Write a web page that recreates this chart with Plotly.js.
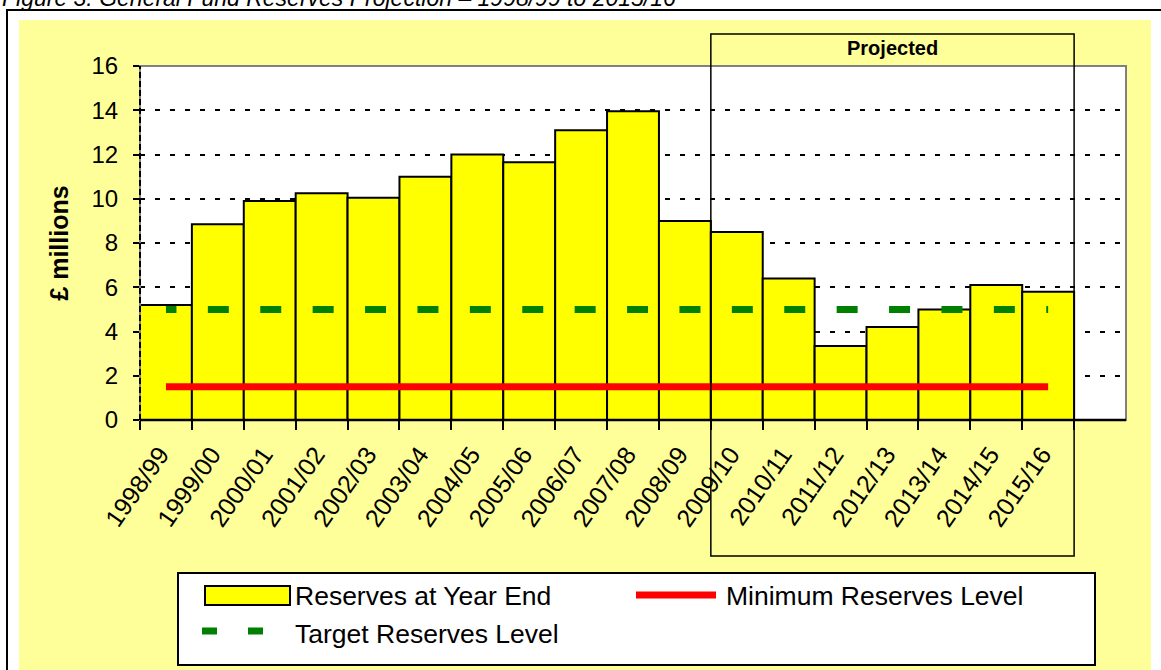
<!DOCTYPE html>
<html>
<head>
<meta charset="utf-8">
<script src="https://cdn.plot.ly/plotly-3.0.1.min.js"></script>
<style>
  html, body { margin: 0; padding: 0; background: #ffffff; }
  #chart { width: 1161px; height: 670px; }
</style>
</head>
<body>
<div id="chart"></div>
<script>
// ---- data ----
const categories = ['1998/99','1999/00','2000/01','2001/02','2002/03','2003/04','2004/05','2005/06','2006/07','2007/08','2008/09','2009/10','2010/11','2011/12','2012/13','2013/14','2014/15','2015/16'];
const reserves   = [5.2, 8.85, 9.9, 10.25, 10.05, 11.0, 12.0, 11.65, 13.1, 13.95, 9.0, 8.5, 6.4, 3.35, 4.2, 5.0, 6.1, 5.8];
const minimumLevel = [1.5, 1.5, 1.5, 1.5, 1.5, 1.5, 1.5, 1.5, 1.5, 1.5, 1.5, 1.5, 1.5, 1.5, 1.5, 1.5, 1.5, 1.5];
const targetLevel  = [5, 5, 5, 5, 5, 5, 5, 5, 5, 5, 5, 5, 5, 5, 5, 5, 5, 5];
const yTicks = [0, 2, 4, 6, 8, 10, 12, 14, 16];
const seriesNames = ['Reserves at Year End', 'Minimum Reserves Level', 'Target Reserves Level'];
const captionText = 'Figure 3: General Fund Reserves Projection – 1998/99 to 2015/16';
const projectedLabel = 'Projected';
const yTitle = '£ millions';

const FONT = 'Arial, "Liberation Sans", sans-serif';

// plot area in pixels: x 140..1126, y 66..420
const W = 1161, H = 670;
const L = 140, R = 1126, T = 66, B = 420;
const px = v => (v - L) / (R - L);
const py = v => (B - v) / (B - T);

const traces = [
  {
    type: 'bar', name: seriesNames[0], x: categories, y: reserves,
    marker: { color: '#FFFF00', line: { color: '#000000', width: 2 } },
    showlegend: false, hoverinfo: 'x+y'
  },
  {
    type: 'scatter', mode: 'lines', name: seriesNames[1], x: categories, y: minimumLevel,
    line: { color: '#FF0000', width: 7 }, showlegend: false
  },
  {
    type: 'scatter', mode: 'lines', name: seriesNames[2], x: categories, y: targetLevel,
    line: { color: '#008000', width: 7, dash: '10.5px,31.4px,10.5px,0px' }, showlegend: false
  }
];

const shapes = [
  // outer frame
  { type: 'rect', xref: 'paper', yref: 'paper', layer: 'below',
    x0: px(7), x1: px(1170), y0: py(690), y1: py(10),
    fillcolor: '#FFFFFF', line: { color: '#000000', width: 2 } },
  // light yellow chart area
  { type: 'rect', xref: 'paper', yref: 'paper', layer: 'below',
    x0: px(19), x1: px(1151), y0: py(690), y1: py(20),
    fillcolor: '#FFFF99', line: { width: 0 } },
  // white plot area
  { type: 'rect', xref: 'paper', yref: 'paper', layer: 'below',
    x0: 0, x1: 1, y0: 0, y1: 1,
    fillcolor: '#FFFFFF', line: { width: 0 } },
  // plot border (grey)
  { type: 'rect', xref: 'paper', yref: 'paper', layer: 'above',
    x0: 0, x1: 1, y0: 0, y1: 1, line: { color: '#808080', width: 2 } },
  // left axis dashed black over grey
  { type: 'line', xref: 'paper', yref: 'paper', layer: 'above',
    x0: 0, x1: 0, y0: 0, y1: 1, line: { color: '#000000', width: 2, dash: '6px,3px' } },
  // bottom axis
  { type: 'line', xref: 'paper', yref: 'paper', layer: 'above',
    x0: 0, x1: 1, y0: 0, y1: 0, line: { color: '#000000', width: 2.5 } },
  // projected box
  { type: 'rect', xref: 'x', yref: 'paper', layer: 'above',
    x0: 10.5, x1: 17.5, y0: py(556), y1: py(34), line: { color: '#000000', width: 1.5 } },
  // legend box
  { type: 'rect', xref: 'paper', yref: 'paper', layer: 'above',
    x0: px(178), x1: px(1095), y0: py(665), y1: py(573),
    fillcolor: '#FFFFFF', line: { color: '#000000', width: 2 } },
  // legend swatches
  { type: 'rect', xref: 'paper', yref: 'paper', layer: 'above',
    x0: px(205), x1: px(290), y0: py(605), y1: py(586),
    fillcolor: '#FFFF00', line: { color: '#000000', width: 2 } },
  { type: 'line', xref: 'paper', yref: 'paper', layer: 'above',
    x0: px(636), x1: px(716), y0: py(595), y1: py(595),
    line: { color: '#FF0000', width: 7 } },
  { type: 'line', xref: 'paper', yref: 'paper', layer: 'above',
    x0: px(202), x1: px(263), y0: py(631), y1: py(631),
    line: { color: '#008000', width: 7, dash: '15px,31px' } }
];

const annotations = [
  { xref: 'paper', yref: 'paper', x: px(0), y: py(-2), xanchor: 'left', yanchor: 'middle',
    text: captionText, showarrow: false,
    font: { family: FONT, size: 23, color: '#000000', style: 'italic' } },
  { xref: 'x', yref: 'paper', x: 14, y: py(48), xanchor: 'center', yanchor: 'middle',
    text: '<b>' + projectedLabel + '</b>', showarrow: false,
    font: { family: FONT, size: 20, color: '#000000' } },
  { xref: 'paper', yref: 'paper', x: px(293), y: py(596), xanchor: 'left', yanchor: 'middle',
    text: seriesNames[0], showarrow: false, font: { family: FONT, size: 26.5, color: '#000000' } },
  { xref: 'paper', yref: 'paper', x: px(724), y: py(596), xanchor: 'left', yanchor: 'middle',
    text: seriesNames[1], showarrow: false, font: { family: FONT, size: 26.5, color: '#000000' } },
  { xref: 'paper', yref: 'paper', x: px(293), y: py(634), xanchor: 'left', yanchor: 'middle',
    text: seriesNames[2], showarrow: false, font: { family: FONT, size: 26.5, color: '#000000' } }
];

const layout = {
  width: W, height: H,
  margin: { l: L, r: W - R, t: T, b: H - B, pad: 0 },
  paper_bgcolor: '#FFFFFF',
  plot_bgcolor: '#FFFFFF',
  bargap: 0,
  showlegend: false,
  font: { family: FONT, color: '#000000', size: 24 },
  xaxis: {
    type: 'category', categoryorder: 'array', categoryarray: categories,
    range: [-0.5, 18.5], tickson: 'boundaries',
    ticks: 'outside', ticklen: 9, tickwidth: 2, tickcolor: '#000000',
    ticklabelstandoff: 14, ticklabelshift: -6,
    showline: false, showgrid: false, zeroline: false,
    tickangle: -55, tickfont: { family: FONT, size: 25, color: '#000000' },
    fixedrange: true
  },
  yaxis: {
    range: [0, 16], tickmode: 'array', tickvals: yTicks,
    ticks: 'outside', ticklen: 6, tickwidth: 2, tickcolor: '#000000',
    ticklabelstandoff: 10,
    showline: false, zeroline: false,
    showgrid: true, gridcolor: '#000000', gridwidth: 2, griddash: '5px,10px',
    tickfont: { family: FONT, size: 24, color: '#000000' },
    title: { text: yTitle, standoff: 15, font: { family: FONT, size: 25, weight: 'bold', color: '#000000' } },
    fixedrange: true
  },
  shapes: shapes,
  annotations: annotations
};

Plotly.newPlot('chart', traces, layout, { displayModeBar: false, staticPlot: true });
</script>
</body>
</html>
